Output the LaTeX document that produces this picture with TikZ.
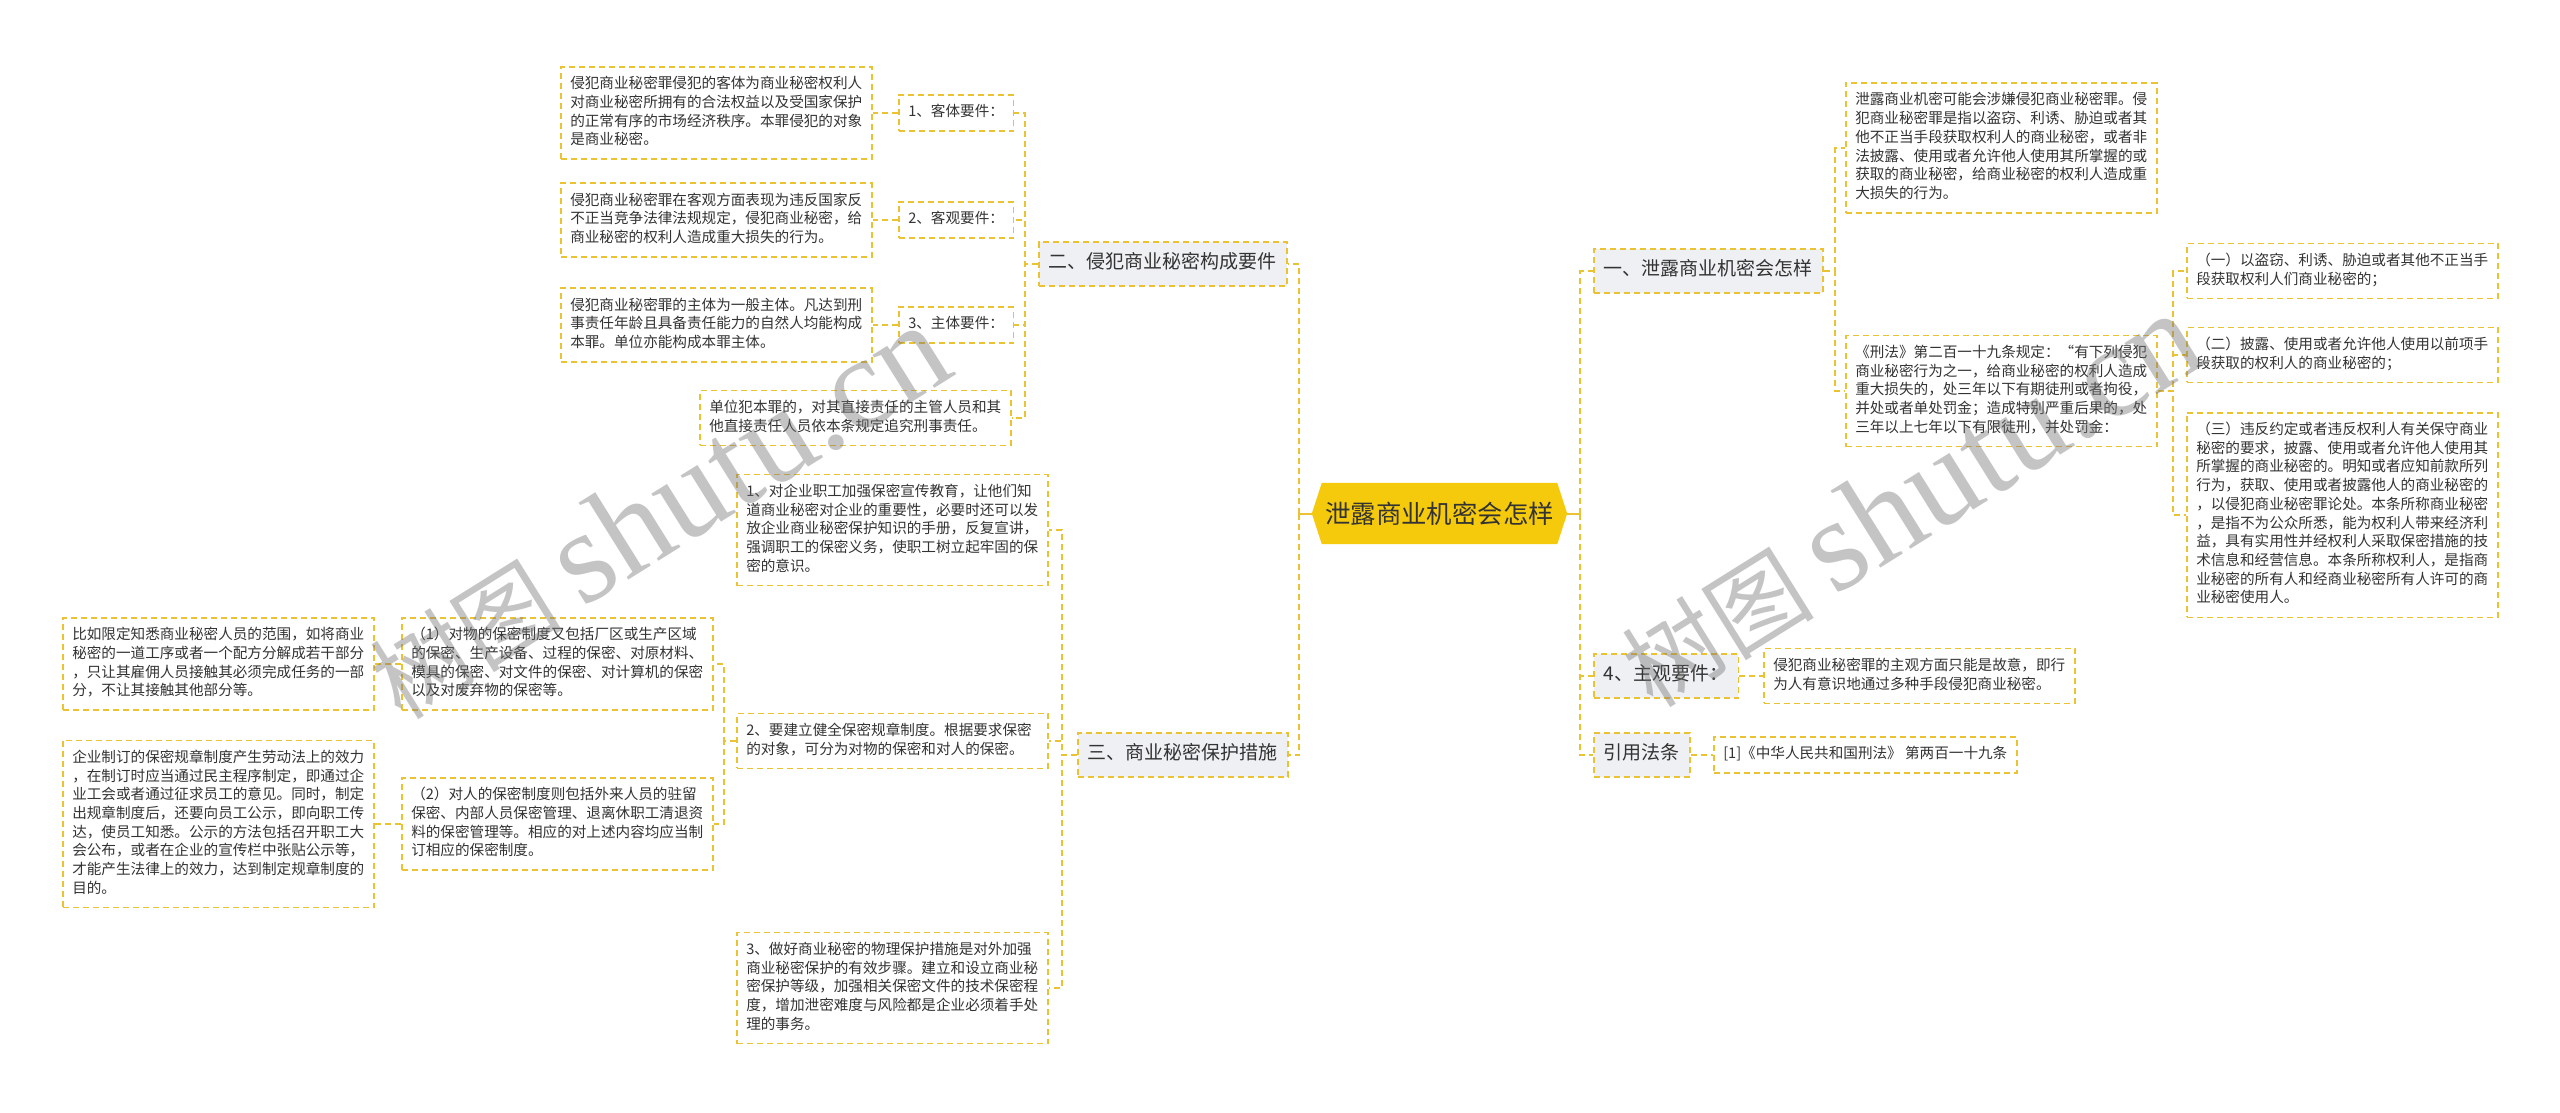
\documentclass[tikz,border=0pt]{standalone}
\usepackage{fontspec}
\setmainfont{Noto Sans CJK SC}
\newfontfamily\wmlatin{Liberation Serif}
\usetikzlibrary{backgrounds}
\definecolor{yel}{HTML}{EBC232}
\definecolor{cfill}{HTML}{F6CA0C}
\definecolor{secfill}{HTML}{EEF0F3}
\definecolor{txt}{HTML}{333333}
\begin{document}
\begin{tikzpicture}[x=1pt,y=-1pt,
  box/.style={draw=yel, line width=1.5pt, dash pattern=on 6pt off 4pt},
  leaf/.style={box, fill=white, text=txt, anchor=west, inner xsep=9.5pt, inner ysep=8.75pt,
    font=\fontsize{14.6pt}{18.7pt}\selectfont, execute at begin node=\strut, execute at end node=\strut},
  para/.style={leaf, text width=292pt, align=left},
  sec/.style={box, fill=secfill, text=txt, anchor=west, inner xsep=10pt, inner ysep=10.5pt,
    font=\fontsize{19pt}{23pt}\selectfont, execute at begin node=\strut, execute at end node=\strut},
  conn/.style={draw=yel, line width=1.5pt, dash pattern=on 6pt off 4pt},
  trunk/.style={draw=yel, line width=2pt},
  wm/.style={text=black!55, opacity=0.42, font=\fontsize{96pt}{110pt}\selectfont, inner sep=0pt}
]
\useasboundingbox (0,0) rectangle (2560,1112);

% centre
\node[font=\fontsize{25.4pt}{30pt}\selectfont, text=txt, minimum width=255pt, minimum height=61pt, inner sep=0pt] (c) at (1439.5,513.5) {泄露商业机密会怎样};

% second level
\node[sec] (s1) at (1593,271) {一、泄露商业机密会怎样};
\node[sec] (s2) at (1038,264) {二、侵犯商业秘密构成要件};
\node[sec] (s3) at (1077,755) {三、商业秘密保护措施};
\node[sec] (s4) at (1593,676) {4、主观要件：};
\node[sec] (s5) at (1593,755) {引用法条};

% group two
\node[para] (a1) at (560,113) {侵犯商业秘密罪侵犯的客体为商业秘密权利人\\对商业秘密所拥有的合法权益以及受国家保护\\的正常有序的市场经济秩序。本罪侵犯的对象\\是商业秘密。};
\node[leaf] (k1) at (898,113) {1、客体要件：};
\node[para] (a2) at (560,220) {侵犯商业秘密罪在客观方面表现为违反国家反\\不正当竞争法律法规规定，侵犯商业秘密，给\\商业秘密的权利人造成重大损失的行为。};
\node[leaf] (k2) at (898,220) {2、客观要件：};
\node[para] (a3) at (560,325) {侵犯商业秘密罪的主体为一般主体。凡达到刑\\事责任年龄且具备责任能力的自然人均能构成\\本罪。单位亦能构成本罪主体。};
\node[leaf] (k3) at (898,325) {3、主体要件：};
\node[para] (a4) at (699,418) {单位犯本罪的，对其直接责任的主管人员和其\\他直接责任人员依本条规定追究刑事责任。};

% group three
\node[para] (b1) at (736,530) {1、对企业职工加强保密宣传教育，让他们知\\道商业秘密对企业的重要性，必要时还可以发\\放企业商业秘密保护知识的手册，反复宣讲，\\强调职工的保密义务，使职工树立起牢固的保\\密的意识。};
\node[para] (b2) at (736,741) {2、要建立健全保密规章制度。根据要求保密\\的对象，可分为对物的保密和对人的保密。};
\node[para] (b3) at (736,988) {3、做好商业秘密的物理保护措施是对外加强\\商业秘密保护的有效步骤。建立和设立商业秘\\密保护等级，加强相关保密文件的技术保密程\\度，增加泄密难度与风险都是企业必须着手处\\理的事务。};
\node[para] (d1) at (401,664) {（1）对物的保密制度又包括厂区或生产区域\\的保密、生产设备、过程的保密、对原材料、\\模具的保密、对文件的保密、对计算机的保密\\以及对废弃物的保密等。};
\node[para] (c1) at (62,664) {比如限定知悉商业秘密人员的范围，如将商业\\秘密的一道工序或者一个配方分解成若干部分\\，只让其雇佣人员接触其必须完成任务的一部\\分，不让其接触其他部分等。};
\node[para] (d2) at (401,824) {（2）对人的保密制度则包括外来人员的驻留\\保密、内部人员保密管理、退离休职工清退资\\料的保密管理等。相应的对上述内容均应当制\\订相应的保密制度。};
\node[para] (c2) at (62,824) {企业制订的保密规章制度产生劳动法上的效力\\，在制订时应当通过民主程序制定，即通过企\\业工会或者通过征求员工的意见。同时，制定\\出规章制度后，还要向员工公示，即向职工传\\达，使员工知悉。公示的方法包括召开职工大\\会公布，或者在企业的宣传栏中张贴公示等，\\才能产生法律上的效力，达到制定规章制度的\\目的。};

% group one
\node[para] (e1) at (1845,148) {泄露商业机密可能会涉嫌侵犯商业秘密罪。侵\\犯商业秘密罪是指以盗窃、利诱、胁迫或者其\\他不正当手段获取权利人的商业秘密，或者非\\法披露、使用或者允许他人使用其所掌握的或\\获取的商业秘密，给商业秘密的权利人造成重\\大损失的行为。};
\node[para] (e2) at (1845,391) {《刑法》第二百一十九条规定：“有下列侵犯\\商业秘密行为之一，给商业秘密的权利人造成\\重大损失的，处三年以下有期徒刑或者拘役，\\并处或者单处罚金；造成特别严重后果的，处\\三年以上七年以下有限徒刑，并处罚金：};
\node[para] (f1) at (2186,271) {（一）以盗窃、利诱、胁迫或者其他不正当手\\段获取权利人们商业秘密的；};
\node[para] (f2) at (2186,355) {（二）披露、使用或者允许他人使用以前项手\\段获取的权利人的商业秘密的；};
\node[para] (f3) at (2186,515) {（三）违反约定或者违反权利人有关保守商业\\秘密的要求，披露、使用或者允许他人使用其\\所掌握的商业秘密的。明知或者应知前款所列\\行为，获取、使用或者披露他人的商业秘密的\\，以侵犯商业秘密罪论处。本条所称商业秘密\\，是指不为公众所悉，能为权利人带来经济利\\益，具有实用性并经权利人采取保密措施的技\\术信息和经营信息。本条所称权利人，是指商\\业秘密的所有人和经商业秘密所有人许可的商\\业秘密使用人。};
\node[para] (g) at (1763,676) {侵犯商业秘密罪的主观方面只能是故意，即行\\为人有意识地通过多种手段侵犯商业秘密。};
\node[leaf] (h) at (1713,755) {[1]《中华人民共和国刑法》 第两百一十九条};

% junction coordinates
\coordinate (tl) at (1299,513.5);
\coordinate (tr) at (1580,513.5);
\coordinate (j2) at (1025,264);
\coordinate (j3) at (1062,755);
\coordinate (jb) at (724,741);
\coordinate (j1) at (1835,271);
\coordinate (je) at (2173,391);

\begin{scope}[on background layer]
  \fill[white] (0,0) rectangle (2560,1112);
  \fill[cfill] (c.west) -- ([xshift=10pt]c.north west) -- ([xshift=-10pt]c.north east) -- (c.east)
    -- ([xshift=-10pt]c.south east) -- ([xshift=10pt]c.south west) -- cycle;
  \draw[trunk] (c.west) -- (tl);
  \draw[trunk] (c.east) -- (tr);
  \draw[conn] (tl) |- (s2.east);
  \draw[conn] (tl) |- (s3.east);
  \draw[conn] (tr) |- (s1.west);
  \draw[conn] (tr) |- (s4.west);
  \draw[conn] (tr) |- (s5.west);
  % group two
  \draw[conn] (s2.west) -- (j2) |- (k1.east);
  \draw[conn] (s2.west) -- (j2) |- (k2.east);
  \draw[conn] (s2.west) -- (j2) |- (k3.east);
  \draw[conn] (s2.west) -- (j2) |- (a4.east);
  \draw[conn] (k1.west) -- (a1.east);
  \draw[conn] (k2.west) -- (a2.east);
  \draw[conn] (k3.west) -- (a3.east);
  % group three
  \draw[conn] (s3.west) -- (j3) |- (b1.east);
  \draw[conn] (s3.west) -- (j3) |- (b2.east);
  \draw[conn] (s3.west) -- (j3) |- (b3.east);
  \draw[conn] (b2.west) -- (jb) |- (d1.east);
  \draw[conn] (b2.west) -- (jb) |- (d2.east);
  \draw[conn] (d1.west) -- (c1.east);
  \draw[conn] (d2.west) -- (c2.east);
  % group one
  \draw[conn] (s1.east) -- (j1) |- (e1.west);
  \draw[conn] (s1.east) -- (j1) |- (e2.west);
  \draw[conn] (e2.east) -- (je) |- (f1.west);
  \draw[conn] (e2.east) -- (je) |- (f2.west);
  \draw[conn] (e2.east) -- (je) |- (f3.west);
  \draw[conn] (s4.east) -- (g.west);
  \draw[conn] (s5.east) -- (h.west);
\end{scope}

% watermarks
\node[wm, rotate=32] (wm1) at (658,512) {树图 {\wmlatin\fontsize{132pt}{145pt}\selectfont shutu.cn}};
\node[wm, rotate=32] (wm2) at (1910,500) {树图 {\wmlatin\fontsize{132pt}{145pt}\selectfont shutu.cn}};
\end{tikzpicture}
\end{document}
